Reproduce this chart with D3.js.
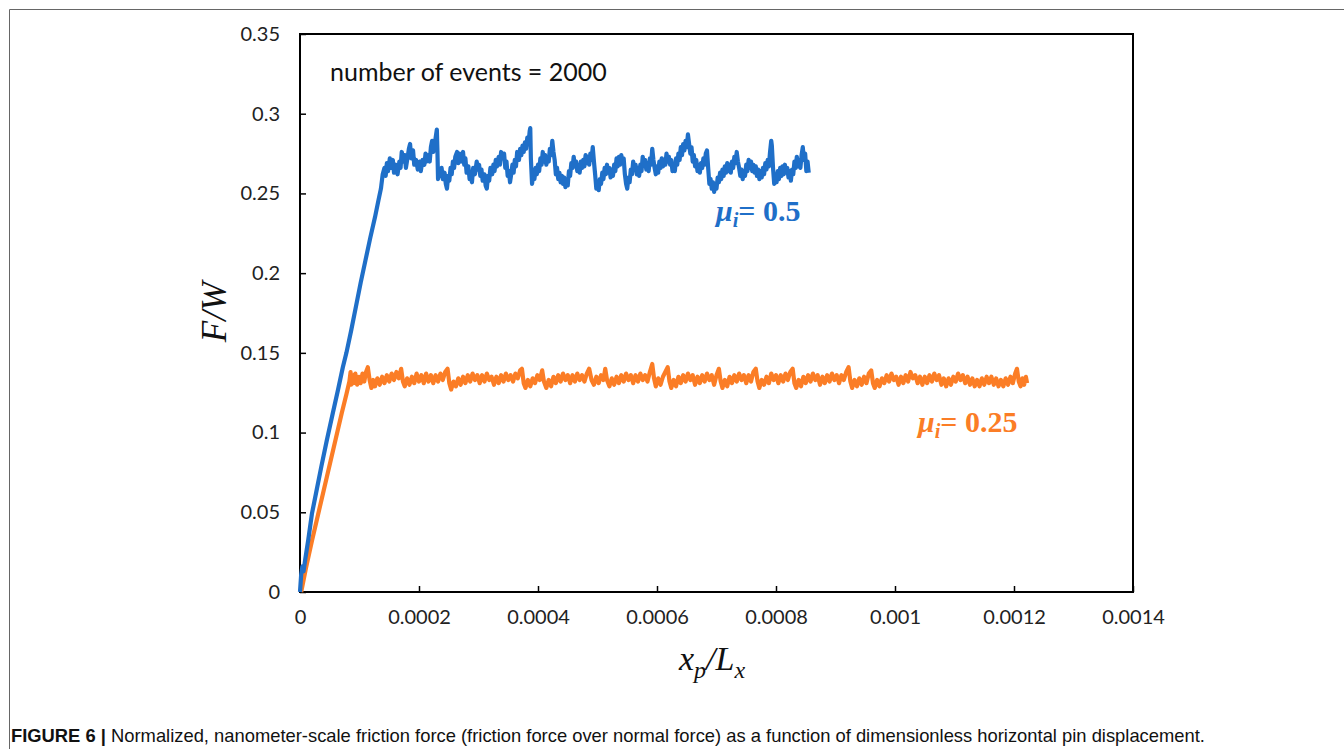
<!DOCTYPE html>
<html><head><meta charset="utf-8">
<script src="https://cdn.jsdelivr.net/npm/d3@7"></script>
<style>body{margin:0;background:#fff}svg{display:block}</style>
</head><body>
<svg id="c" width="1344" height="749"></svg>
<script>
// Data: x in units of 1e-6 (x_p/L_x × 10^6), y = F/W
const xTicks = [0, 0.0002, 0.0004, 0.0006, 0.0008, 0.001, 0.0012, 0.0014];
const xTickLabels = ["0","0.0002","0.0004","0.0006","0.0008","0.001","0.0012","0.0014"];
const yTicks = [0, 0.05, 0.1, 0.15, 0.2, 0.25, 0.3, 0.35];
const yTickLabels = ["0","0.05","0.1","0.15","0.2","0.25","0.3","0.35"];
const seriesNames = ["\u03bc_i = 0.5", "\u03bc_i = 0.25"];

const blue = [[0,0],[2,0.011],[4,0.016],[6,0.013],[9,0.021],[14,0.033],[20,0.049],[28,0.064],[36,0.079],[45,0.095],[55,0.112],[64,0.127],[72,0.141],[78,0.150],[86,0.164],[94,0.179],[102,0.194],[110,0.208],[118,0.222],[126,0.235],[132,0.246],[136,0.253],[139,0.262],
[142,0.266],[144,0.261],[146,0.269],[148,0.264],[151,0.272],[153,0.266],[156,0.271],[158,0.263],[161,0.268],[164,0.262],[167,0.270],[169,0.266],[171,0.276],[174,0.270],[176,0.274],[178,0.266],[181,0.273],[183,0.278],[185,0.281],[187,0.272],[190,0.277],[192,0.268],[195,0.271],[198,0.265],[201,0.270],[203,0.264],[206,0.271],[209,0.268],[211,0.275],[213,0.270],[216,0.274],[218,0.270],[220,0.279],[222,0.283],[224,0.276],[226,0.280],[228,0.285],[230,0.290],[231,0.276],[232,0.259],[234,0.265],[236,0.261],[238,0.266],[240,0.259],[243,0.263],[245,0.256],[247,0.253],[249,0.261],[251,0.258],[253,0.266],[255,0.262],[257,0.270],[259,0.266],[261,0.273],[264,0.276],[266,0.269],[268,0.275],[271,0.270],[274,0.276],[276,0.268],[278,0.272],[280,0.263],[283,0.267],[285,0.259],[287,0.262],[289,0.257],[291,0.266],[294,0.262],[297,0.270],[299,0.265],[301,0.268],[303,0.261],[305,0.265],[307,0.258],[310,0.262],[312,0.255],[314,0.253],[316,0.261],[318,0.258],[320,0.266],[323,0.262],[325,0.268],[327,0.264],[329,0.271],[331,0.267],[334,0.273],[336,0.268],[338,0.276],[341,0.272],[343,0.275],[345,0.266],[347,0.270],[349,0.261],[351,0.264],[353,0.257],[355,0.262],[357,0.268],[359,0.263],[361,0.271],[363,0.267],[365,0.276],[368,0.271],[370,0.278],[372,0.274],[374,0.280],[376,0.276],[378,0.282],[380,0.278],[382,0.285],[384,0.281],[386,0.289],[387,0.291],[388,0.272],[390,0.256],[392,0.262],[394,0.259],[396,0.266],[398,0.262],[400,0.268],[402,0.264],[404,0.272],[406,0.268],[408,0.276],[410,0.270],[412,0.274],[414,0.268],[416,0.273],[418,0.270],[420,0.278],[422,0.274],[424,0.283],[426,0.276],[428,0.271],[430,0.262],[432,0.266],[434,0.259],[436,0.263],[438,0.257],[440,0.261],[442,0.256],[444,0.260],[446,0.254],[448,0.258],[450,0.255],[452,0.264],[454,0.261],[456,0.269],[458,0.266],[460,0.273],[462,0.267],[464,0.270],[466,0.264],[468,0.268],[470,0.263],[472,0.270],[474,0.266],[476,0.271],[478,0.267],[480,0.274],[482,0.269],[484,0.273],[486,0.268],[488,0.275],[490,0.271],[492,0.279],[494,0.270],[496,0.262],[498,0.253],[500,0.257],[502,0.252],[504,0.259],[506,0.256],[508,0.263],[510,0.259],[512,0.266],[514,0.262],[516,0.268],[518,0.263],[520,0.266],[522,0.260],[524,0.265],[526,0.261],[528,0.268],[530,0.264],[532,0.272],[534,0.267],[536,0.273],[538,0.268],[540,0.274],[542,0.270],[544,0.272],[546,0.262],[548,0.256],[550,0.253],[552,0.260],[554,0.257],[556,0.265],[558,0.262],[560,0.270],[562,0.265],[564,0.268],[566,0.262],[568,0.266],[570,0.261],[572,0.268],[574,0.264],[576,0.273],[578,0.268],[580,0.271],[582,0.265],[584,0.269],[586,0.264],[588,0.272],[590,0.268],[592,0.278],[594,0.271],[596,0.266],[598,0.262],[600,0.267],[602,0.263],[604,0.270],[606,0.266],[608,0.272],[610,0.267],[612,0.271],[614,0.268],[616,0.275],[618,0.270],[620,0.273],[622,0.268],[624,0.271],[626,0.264],[628,0.268],[630,0.264],[632,0.272],[634,0.268],[636,0.275],[638,0.271],[640,0.279],[642,0.274],[644,0.281],[646,0.277],[648,0.283],[650,0.279],[652,0.287],[654,0.281],[656,0.275],[658,0.279],[660,0.270],[662,0.274],[664,0.267],[666,0.271],[668,0.264],[670,0.268],[672,0.263],[674,0.269],[676,0.266],[678,0.272],[680,0.268],[682,0.275],[684,0.277],[686,0.266],[688,0.256],[690,0.259],[692,0.253],[694,0.257],[696,0.251],[698,0.256],[700,0.253],[702,0.260],[704,0.257],[706,0.263],[708,0.259],[710,0.265],[712,0.261],[714,0.267],[716,0.263],[718,0.269],[720,0.264],[722,0.268],[724,0.263],[726,0.270],[728,0.266],[730,0.273],[732,0.269],[734,0.276],[736,0.270],[738,0.266],[740,0.261],[742,0.265],[744,0.259],[746,0.264],[748,0.261],[750,0.268],[752,0.264],[754,0.271],[756,0.266],[758,0.270],[760,0.264],[762,0.268],[764,0.263],[766,0.267],[768,0.261],[770,0.265],[772,0.259],[774,0.264],[776,0.260],[778,0.266],[780,0.262],[782,0.269],[784,0.265],[786,0.271],[788,0.267],[790,0.276],[792,0.283],[793,0.280],[795,0.266],[797,0.256],[799,0.262],[801,0.257],[803,0.264],[805,0.259],[807,0.266],[809,0.261],[811,0.267],[813,0.262],[815,0.268],[817,0.263],[819,0.266],[821,0.260],[823,0.264],[825,0.258],[827,0.265],[829,0.262],[831,0.270],[833,0.266],[835,0.273],[837,0.267],[839,0.271],[841,0.266],[843,0.274],[845,0.279],[847,0.271],[849,0.275],[851,0.264],[853,0.270],[855,0.263]];

const orange = [[2,0],[10,0.015],[20,0.032],[30,0.048],[40,0.064],[45,0.072],[50,0.080],[60,0.096],[70,0.112],[78,0.124],[83,0.132],[85,0.138],[86,0.130],
[88,0.136],[90,0.131],[93,0.137],[96,0.130],[99,0.135],[102,0.131],[105,0.137],[108,0.132],[111,0.138],[114,0.141],[117,0.133],[120,0.128],[123,0.133],[126,0.129],[130,0.134],[134,0.130],[138,0.135],[142,0.131],[146,0.136],[150,0.132],[154,0.137],[158,0.133],[162,0.138],[166,0.134],[170,0.140],[173,0.132],[176,0.129],[180,0.134],[184,0.130],[188,0.135],[192,0.131],[196,0.137],[200,0.132],[204,0.136],[208,0.131],[212,0.137],[216,0.132],[220,0.136],[224,0.131],[228,0.136],[232,0.132],[236,0.137],[240,0.133],[244,0.138],[248,0.140],[251,0.131],[254,0.127],[258,0.132],[262,0.129],[266,0.134],[270,0.130],[274,0.135],[278,0.131],[282,0.136],[286,0.132],[290,0.137],[294,0.133],[298,0.136],[302,0.131],[306,0.136],[310,0.132],[314,0.137],[318,0.133],[322,0.135],[326,0.130],[330,0.135],[334,0.131],[338,0.136],[342,0.132],[346,0.137],[350,0.133],[354,0.136],[358,0.132],[362,0.137],[366,0.134],[370,0.139],[373,0.140],[376,0.131],[379,0.128],[383,0.133],[387,0.129],[391,0.134],[395,0.131],[399,0.136],[403,0.133],[407,0.139],[410,0.132],[414,0.128],[418,0.133],[422,0.129],[426,0.135],[430,0.131],[434,0.136],[438,0.132],[442,0.137],[446,0.133],[450,0.136],[454,0.131],[458,0.136],[462,0.132],[466,0.137],[470,0.133],[474,0.136],[478,0.132],[482,0.137],[486,0.140],[490,0.133],[494,0.130],[498,0.135],[502,0.131],[506,0.136],[510,0.133],[513,0.140],[516,0.133],[520,0.129],[524,0.134],[528,0.130],[532,0.135],[536,0.131],[540,0.136],[544,0.132],[548,0.137],[552,0.133],[556,0.136],[560,0.131],[564,0.136],[568,0.132],[572,0.137],[576,0.133],[580,0.136],[584,0.132],[588,0.138],[592,0.143],[595,0.134],[598,0.129],[602,0.134],[606,0.130],[610,0.135],[614,0.138],[618,0.141],[621,0.132],[624,0.128],[628,0.133],[632,0.129],[636,0.135],[640,0.131],[644,0.136],[648,0.132],[652,0.137],[656,0.133],[660,0.136],[664,0.130],[668,0.135],[672,0.131],[676,0.136],[680,0.132],[684,0.137],[688,0.133],[692,0.136],[696,0.130],[700,0.136],[704,0.140],[707,0.132],[710,0.128],[714,0.133],[718,0.129],[722,0.135],[726,0.131],[730,0.136],[734,0.132],[738,0.137],[742,0.133],[746,0.136],[750,0.131],[754,0.136],[758,0.132],[762,0.138],[766,0.140],[769,0.132],[772,0.128],[776,0.133],[780,0.130],[784,0.135],[788,0.131],[792,0.137],[796,0.133],[800,0.136],[804,0.131],[808,0.136],[812,0.132],[816,0.137],[820,0.133],[824,0.138],[828,0.140],[831,0.131],[834,0.128],[838,0.133],[842,0.129],[846,0.135],[850,0.131],[854,0.136],[858,0.132],[862,0.137],[866,0.133],[870,0.136],[874,0.130],[878,0.135],[882,0.131],[886,0.136],[890,0.132],[894,0.137],[898,0.133],[902,0.136],[906,0.131],[910,0.136],[914,0.133],[918,0.138],[922,0.141],[925,0.132],[928,0.128],[932,0.133],[936,0.129],[940,0.134],[944,0.130],[948,0.135],[952,0.131],[956,0.137],[960,0.139],[963,0.131],[966,0.128],[970,0.133],[974,0.129],[978,0.134],[982,0.131],[986,0.136],[990,0.132],[994,0.137],[998,0.133],[1002,0.135],[1006,0.130],[1010,0.135],[1014,0.131],[1018,0.136],[1022,0.132],[1026,0.138],[1030,0.134],[1034,0.136],[1038,0.131],[1042,0.135],[1046,0.130],[1050,0.135],[1054,0.131],[1058,0.136],[1062,0.132],[1066,0.137],[1070,0.133],[1074,0.136],[1078,0.130],[1082,0.134],[1086,0.129],[1090,0.134],[1094,0.130],[1098,0.135],[1102,0.132],[1106,0.137],[1110,0.133],[1114,0.136],[1118,0.131],[1122,0.135],[1126,0.130],[1130,0.134],[1134,0.129],[1138,0.133],[1142,0.129],[1146,0.134],[1150,0.130],[1154,0.135],[1158,0.131],[1162,0.135],[1166,0.130],[1170,0.134],[1174,0.129],[1178,0.133],[1182,0.129],[1186,0.134],[1190,0.130],[1194,0.135],[1198,0.131],[1202,0.137],[1205,0.140],[1208,0.132],[1211,0.129],[1214,0.134],[1217,0.130],[1220,0.135],[1222,0.131]];

const annotation = "number of events = 2000";
const captionBold = "FIGURE 6 |";
const captionText = " Normalized, nanometer-scale friction force (friction force over normal force) as a function of dimensionless horizontal pin displacement.";

const svg = d3.select("#c");
const W = 1344, H = 749;
const L = 300, R = 1133, T = 34, B = 592;

// outer frame
svg.append("path").attr("d", `M9.5,${H} V9.5 H${W}`).attr("fill","none").attr("stroke","#666").attr("stroke-width",1);

const x = d3.scaleLinear().domain([0, 0.0014]).range([L, R]);
const y = d3.scaleLinear().domain([0, 0.35]).range([B, T]);

const tickFont = "Lato, 'Open Sans', sans-serif";

// plot box
svg.append("rect").attr("x", L).attr("y", T).attr("width", R-L).attr("height", B-T)
  .attr("fill","none").attr("stroke","#000").attr("stroke-width",2);

// axes with inward ticks
const xAxis = d3.axisBottom(x).tickValues(xTicks).tickSize(-6).tickPadding(18)
  .tickFormat((d,i) => xTickLabels[i]);
const gx = svg.append("g").attr("transform", `translate(0,${B})`).call(xAxis);
gx.select(".domain").remove();
gx.selectAll("line").attr("stroke","#000").attr("stroke-width",1.5);
gx.selectAll("text").attr("font-family", tickFont).attr("font-size", 20).attr("fill","#222");

const yAxis = d3.axisLeft(y).tickValues(yTicks).tickSize(-6).tickPadding(20)
  .tickFormat((d,i) => yTickLabels[i]);
const gy = svg.append("g").attr("transform", `translate(${L},0)`).call(yAxis);
gy.select(".domain").remove();
gy.selectAll("line").attr("stroke","#000").attr("stroke-width",1.5);
gy.selectAll("text").attr("font-family", tickFont).attr("font-size", 20).attr("fill","#222");

// lines
const line = d3.line().x(d => x(d[0]*1e-6)).y(d => y(d[1]));
svg.append("path").datum(orange).attr("d", line).attr("fill","none")
  .attr("stroke","#fb7d26").attr("stroke-width",4.2).attr("stroke-linejoin","round");
svg.append("path").datum(blue).attr("d", line).attr("fill","none")
  .attr("stroke","#1f6fc8").attr("stroke-width",4.2).attr("stroke-linejoin","round");

// annotation
svg.append("text").attr("x", 330).attr("y", 81).attr("font-family", tickFont)
  .attr("font-size", 25).attr("fill","#111").text(annotation);

// series labels
function muLabel(px, py, val, color, fs) {
  const t = svg.append("text").attr("x", px).attr("y", py)
    .attr("font-family","'Liberation Serif','DejaVu Serif',serif").attr("font-size",fs)
    .attr("font-weight","bold").attr("fill", color);
  t.append("tspan").attr("font-style","italic").text("\u03bc");
  t.append("tspan").attr("font-style","italic").attr("font-size",fs*0.68).attr("dy",6).text("i");
  t.append("tspan").attr("dy",-6).text("= " + val);
}
muLabel(716, 221, "0.5", "#1f6fc8", 30);
muLabel(918, 432, "0.25", "#fb7d26", 30);

// axis titles
const serif = "'Liberation Serif','Times New Roman',serif";
svg.append("text").attr("transform","translate(226,312) rotate(-90)").attr("text-anchor","middle")
  .attr("font-family", serif).attr("font-style","italic").attr("font-size",35).attr("fill","#111")
  .text("F/W");
const xt = svg.append("text").attr("x", 679).attr("y", 670)
  .attr("font-family", serif).attr("font-style","italic").attr("font-size",34).attr("fill","#111");
xt.append("tspan").text("x");
xt.append("tspan").attr("font-size",24).attr("dy",8).text("p");
xt.append("tspan").attr("dy",-8).text("/L");
xt.append("tspan").attr("font-size",24).attr("dy",8).text("x");

// caption
const cap = svg.append("text").attr("x", 11).attr("y", 742)
  .attr("font-family","'Liberation Sans',Arial,sans-serif").attr("font-size",16).attr("fill","#111");
cap.append("tspan").attr("font-weight","bold").text(captionBold);
cap.append("tspan").text(captionText);
const w = cap.node().getComputedTextLength();
cap.attr("font-size", 16 * 1194 / w);
</script>
</body></html>
